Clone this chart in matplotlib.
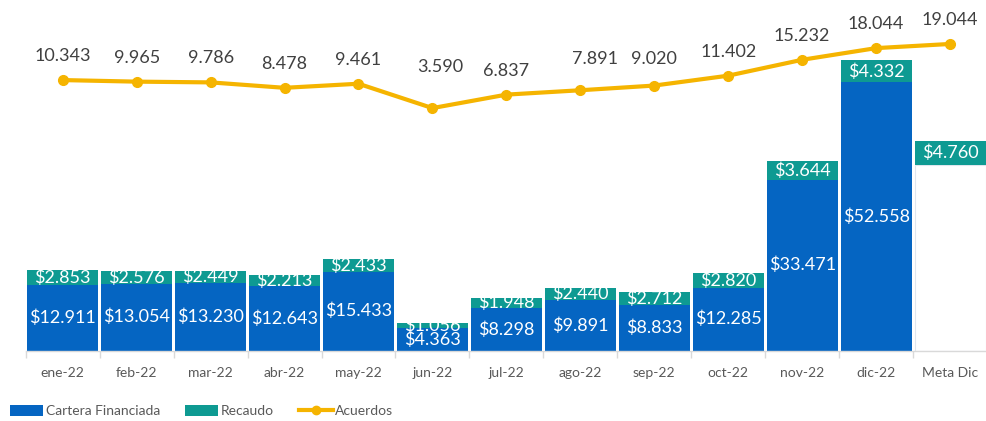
import matplotlib
matplotlib.use("Agg")
import matplotlib.pyplot as plt
from matplotlib.patches import Patch
from matplotlib.lines import Line2D
import numpy as np

categories = ["ene-22", "feb-22", "mar-22", "abr-22", "may-22", "jun-22", "jul-22",
              "ago-22", "sep-22", "oct-22", "nov-22", "dic-22", "Meta Dic"]
cartera = [12.911, 13.054, 13.230, 12.643, 15.433, 4.363, 8.298,
           9.891, 8.833, 12.285, 33.471, 52.558, 36.4]
recaudo = [2.853, 2.576, 2.449, 2.213, 2.433, 1.056, 1.948,
           2.440, 2.712, 2.820, 3.644, 4.332, 4.760]
acuerdos = [10.343, 9.965, 9.786, 8.478, 9.461, 3.590, 6.837,
            7.891, 9.020, 11.402, 15.232, 18.044, 19.044]

BLUE = "#0565C2"
TEAL = "#0E9A92"
YELLOW = "#F5B400"
GREY = "#595959"
FONT = "Lato"

plt.rcParams["font.family"] = [FONT, "DejaVu Sans"]

W, H = 987, 421
fig = plt.figure(figsize=(W / 100, H / 100), dpi=100)
base_px = 350.5
left_px = 25.75
ax = fig.add_axes([left_px / W, (H - base_px) / H, (W - left_px) / W, base_px / H])

x = np.arange(len(categories))
blue_colors = [BLUE] * (len(categories) - 1) + ["white"]
edge_colors = [BLUE] * (len(categories) - 1) + ["#dfe6ee"]
b1 = ax.bar(x, cartera, width=0.96, color=blue_colors, edgecolor=edge_colors,
            linewidth=[0] * (len(categories) - 1) + [0.8], zorder=2)
b2 = ax.bar(x, recaudo, bottom=cartera, width=0.96, color=TEAL, linewidth=0, zorder=2)

lab1 = ["$" + f"{v:.3f}" for v in cartera[:-1]] + [""]
lab2 = ["$" + f"{v:.3f}" for v in recaudo]
ax.bar_label(b1, labels=lab1, label_type="center", color="white", fontsize=13, zorder=3)
ax.bar_label(b2, labels=lab2, label_type="center", color="white", fontsize=13, zorder=3)

ax.set_xlim(-0.5, 12.41)
ax.set_ylim(0, base_px / 5.1)
ax.set_yticks([])
for s in ["top", "right", "left"]:
    ax.spines[s].set_visible(False)
ax.spines["bottom"].set_color("#d9d9d9")
ax.spines["bottom"].set_linewidth(1)
ax.set_xticks(x)
ax.set_xticklabels(categories, fontsize=10, color=GREY)
ax.tick_params(axis="x", which="major", length=0, pad=12)
ax.set_xticks(np.arange(-0.5, 12.6, 1.0), minor=True)
ax.tick_params(axis="x", which="minor", length=5, color="#d9d9d9", width=1)

ax2 = ax.twinx()
ax2.set_zorder(ax.get_zorder() + 1)
ax2.patch.set_visible(False)
zero_px = 123.0
scale2 = 4.15
ax2.set_ylim(-(base_px - zero_px) / scale2, zero_px / scale2)
ax2.set_yticks([])
for s in ax2.spines.values():
    s.set_visible(False)
ax2.plot(x, acuerdos, color=YELLOW, lw=3, marker="o", ms=7, zorder=4, solid_capstyle="round")

offsets_px = {5: (8, 41), 7: (15, 31), 8: (0, 27)}
for i, v in enumerate(acuerdos):
    dx, dy = offsets_px.get(i, (0, 24))
    ax2.annotate(f"{v:.3f}", (x[i], v), xytext=(dx * 0.72, dy * 0.72),
                 textcoords="offset points", ha="center", va="center",
                 fontsize=13, color="#404040")

handles = [Patch(facecolor=BLUE, edgecolor="none"),
           Patch(facecolor=TEAL, edgecolor="none"),
           Line2D([0], [0], color=YELLOW, lw=3, marker="o", ms=6)]
fig.legend(handles, ["Cartera Financiada", "Recaudo", "Acuerdos"],
           loc="center left", bbox_to_anchor=(0.0, (H - 411) / H), ncol=3,
           frameon=False, fontsize=10, labelcolor=GREY, handlelength=2.4,
           handleheight=0.9, handletextpad=0.2, columnspacing=1.8, borderaxespad=0.3)

fig.savefig("out.png", dpi=100)
